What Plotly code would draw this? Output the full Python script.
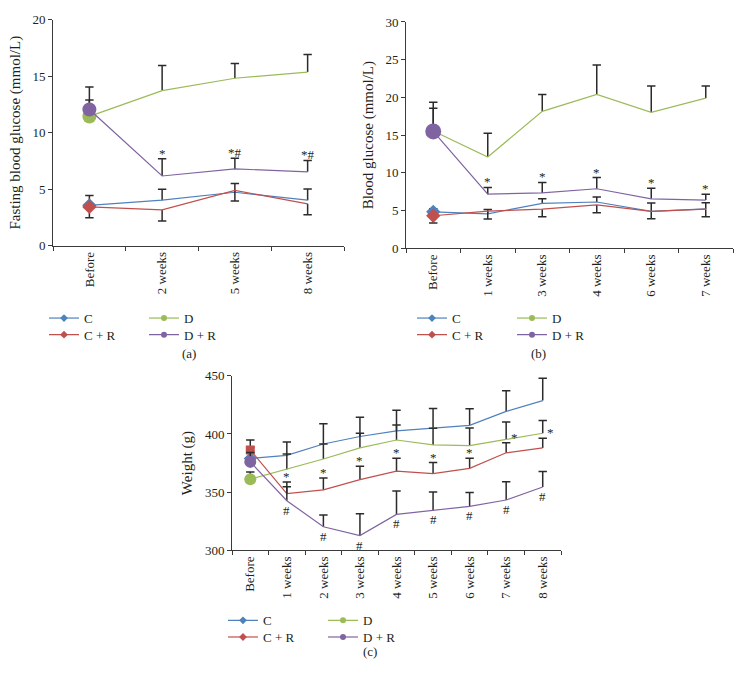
import plotly.graph_objects as go

# (a) fasting blood glucose (mmol/L)
weeks_a = ["Before", "2 weeks", "5 weeks", "8 weeks"]
a_c = [3.57, 4.03, 4.73, 4.03]
a_c_err = [0.87, 0.97, 0.77, 0.99]
a_cr = [3.43, 3.17, 4.90, 3.71]
a_cr_err = [0.95, 0.98, 0.95, 0.97]
a_d = [11.44, 13.73, 14.82, 15.37]
a_d_err = [1.46, 2.21, 1.30, 1.55]
a_dr = [12.05, 6.17, 6.80, 6.54]
a_dr_err = [1.99, 1.53, 0.95, 1.01]
a_dr_marks = ["", "*", "*#", "*#"]

# (b) blood glucose (mmol/L)
weeks_b = ["Before", "1 weeks", "3 weeks", "4 weeks", "6 weeks", "7 weeks"]
b_c = [4.84, 4.58, 5.97, 6.14, 4.89, 5.23]
b_c_err = [0.40, 0.56, 0.60, 0.65, 1.11, 0.82]
b_cr = [4.32, 4.93, 5.19, 5.75, 4.89, 5.19]
b_cr_err = [0.95, 1.04, 1.00, 1.04, 0.96, 1.00]
b_d = [15.56, 12.10, 18.16, 20.40, 18.03, 19.90]
b_d_err = [2.99, 3.16, 2.24, 3.90, 3.47, 1.60]
b_dr = [15.50, 7.18, 7.35, 7.90, 6.57, 6.40]
b_dr_err = [3.87, 0.90, 1.38, 1.48, 1.38, 0.78]
b_dr_marks = ["", "*", "*", "*", "*", "*"]

# (c) weight (g)
weeks_c = ["Before", "1 weeks", "2 weeks", "3 weeks", "4 weeks",
           "5 weeks", "6 weeks", "7 weeks", "8 weeks"]
c_c = [379.0, 381.6, 391.4, 397.8, 402.6, 405.1, 407.4, 419.4, 428.7]
c_c_err = [9.5, 11.5, 17.4, 16.6, 17.7, 16.9, 14.3, 17.7, 19.3]
c_cr = [386.3, 348.8, 351.9, 360.8, 368.1, 365.9, 370.4, 383.8, 388.0]
c_cr_err = [8.5, 9.8, 10.3, 11.5, 11.0, 9.5, 8.7, 8.7, 8.4]
c_d = [361.1, 369.5, 378.5, 388.0, 394.8, 390.6, 390.0, 395.3, 400.6]
c_d_err = [6.2, 13.2, 12.9, 12.6, 12.9, 14.3, 15.1, 14.9, 11.0]
c_dr = [376.0, 342.6, 320.2, 312.6, 330.8, 334.2, 337.8, 343.2, 354.4]
c_dr_err = [8.0, 12.1, 10.1, 18.8, 20.2, 16.0, 11.8, 15.7, 13.4]
c_cr_marks = ["", "*", "*", "*", "*", "*", "*", "*", "*"]
c_dr_marks = ["", "#", "#", "#", "#", "#", "#", "#", "#"]

FONT = "Liberation Serif"
INK = "#231F20"
BAR = "#2b2b2b"
BLUE, RED, GREEN, PURPLE = "#4F81BD", "#C0504D", "#9BBB59", "#8064A2"
W, H = 742, 692

fig = go.Figure()


def add_series(ax, legend, cats, vals, err, color, name, symbol, size,
               legsym, down=False):
    n = len(cats)
    sign = -1 if down else 1
    tips = [v + sign * e for v, e in zip(vals, err)]
    xa, ya = "x" + ax, "y" + ax
    # one-sided error bars: a stem from error_y plus a cap marker at the tip
    fig.add_trace(go.Scatter(
        x=cats, y=tips, mode="markers", xaxis=xa, yaxis=ya,
        marker=dict(symbol="line-ew", size=6, line=dict(width=1.5, color=BAR)),
        error_y=dict(type="data", symmetric=False,
                     array=err if down else [0] * n,
                     arrayminus=[0] * n if down else err,
                     width=0, thickness=1.5, color=BAR),
        showlegend=False, hoverinfo="skip"))
    fig.add_trace(go.Scatter(
        x=cats, y=vals, mode="lines+markers", name=name, legend=legend,
        xaxis=xa, yaxis=ya, line=dict(color=color, width=1.2),
        marker=dict(symbol=legsym, size=6,
                    color=[color] + ["rgba(0,0,0,0)"] * (n - 1))))
    fig.add_trace(go.Scatter(
        x=cats[:1], y=vals[:1], mode="markers", xaxis=xa, yaxis=ya,
        marker=dict(symbol=symbol, size=size, color=color),
        showlegend=False, hoverinfo="skip"))
    return tips


def add_marks(ax, cats, ys, marks, above=True, dx=None):
    for i, m in enumerate(marks):
        if not m:
            continue
        fig.add_annotation(
            x=cats[i], y=ys[i], xref="x" + ax, yref="y" + ax, text=m,
            showarrow=False, yanchor="bottom" if above else "top",
            yshift=-4 if above else 0, xshift=dx[i] if dx else 0,
            font=dict(family=FONT, size=13, color=INK))


# panel (a)
add_series("", "legend", weeks_a, a_c, a_c_err, BLUE, "C", "diamond", 11, "diamond")
add_series("", "legend", weeks_a, a_d, a_d_err, GREEN, "D", "circle", 14, "circle")
add_series("", "legend2", weeks_a, a_cr, a_cr_err, RED, "C + R", "diamond", 11,
           "diamond", down=True)
tips = add_series("", "legend2", weeks_a, a_dr, a_dr_err, PURPLE, "D + R", "circle",
                  14, "circle")
add_marks("", weeks_a, tips, a_dr_marks)

# panel (b)
add_series("2", "legend3", weeks_b, b_c, b_c_err, BLUE, "C", "diamond", 11, "diamond")
add_series("2", "legend3", weeks_b, b_d, b_d_err, GREEN, "D", "circle", 14, "circle")
add_series("2", "legend4", weeks_b, b_cr, b_cr_err, RED, "C + R", "diamond", 11,
           "diamond", down=True)
tips = add_series("2", "legend4", weeks_b, b_dr, b_dr_err, PURPLE, "D + R", "circle",
                  16, "circle")
add_marks("2", weeks_b, tips, b_dr_marks)

# panel (c)
add_series("3", "legend5", weeks_c, c_c, c_c_err, BLUE, "C", "diamond", 10, "diamond")
add_series("3", "legend5", weeks_c, c_d, c_d_err, GREEN, "D", "circle", 12, "circle")
tips = add_series("3", "legend6", weeks_c, c_cr, c_cr_err, RED, "C + R", "square", 9,
                  "diamond")
add_marks("3", weeks_c, tips, c_cr_marks, dx=[0, 0, 0, 0, 0, 0, 0, 8, 8])
add_series("3", "legend6", weeks_c, c_dr, c_dr_err, PURPLE, "D + R", "circle", 12,
           "circle")
add_marks("3", weeks_c, c_dr, c_dr_marks, above=False)


def px_x(a, b):
    return [a / W, b / W]


def px_y(top, bottom):
    return [1 - bottom / H, 1 - top / H]


axis_common = dict(showline=True, linecolor="#3a3a3a", linewidth=1, showgrid=False,
                   zeroline=False, ticks="outside", ticklen=4, tickcolor="#3a3a3a",
                   tickfont=dict(family=FONT, size=13, color=INK))


def setup_axes(ax, cats, xdom, ydom, yrange, dtick, title):
    fig.update_layout(**{
        "xaxis" + ax: dict(axis_common, domain=xdom, type="category",
                           range=[-0.5, len(cats) - 0.5], tickson="boundaries",
                           tickangle=-90, anchor="y" + ax),
        "yaxis" + ax: dict(axis_common, domain=ydom, range=yrange, dtick=dtick,
                           anchor="x" + ax,
                           title=dict(text=title, standoff=8,
                                      font=dict(family=FONT, size=15, color=INK))),
    })


setup_axes("", weeks_a, px_x(53, 344), px_y(13, 244), [0, 20], 5,
           "Fasting blood glucose (mmol/L)")
setup_axes("2", weeks_b, px_x(406, 733), px_y(15.3, 246.7), [0, 30], 5,
           "Blood glucose (mmol/L)")
setup_axes("3", weeks_c, px_x(232, 561), px_y(377, 555.3), [300, 450], 50,
           "Weight (g)")

legend_style = dict(orientation="h", xanchor="left", yanchor="middle",
                    bgcolor="rgba(0,0,0,0)", entrywidth=55, entrywidthmode="pixels",
                    font=dict(family=FONT, size=13, color=INK))
legend_pos = {"legend": (44, 318), "legend2": (44, 335),
              "legend3": (412, 318), "legend4": (412, 335),
              "legend5": (223, 627), "legend6": (223, 644)}
fig.update_layout(**{k: dict(legend_style, x=x / W, y=1 - y / H)
                     for k, (x, y) in legend_pos.items()})

for label, x, y in [("(a)", 180, 354), ("(b)", 548, 354), ("(c)", 370, 669)]:
    fig.add_annotation(text=label, x=x / W, y=1 - y / H, xref="paper", yref="paper",
                       showarrow=False, font=dict(family=FONT, size=13, color=INK))

fig.update_layout(width=W, height=H, margin=dict(l=0, r=0, t=0, b=0),
                  paper_bgcolor="white", plot_bgcolor="white", showlegend=True)

# the page's default body margin would push the figure 8px right and down
fig.write_html("out.html", config={"displayModeBar": False},
               post_script="document.body.style.margin='0';"
                           "document.body.style.overflow='hidden';")
